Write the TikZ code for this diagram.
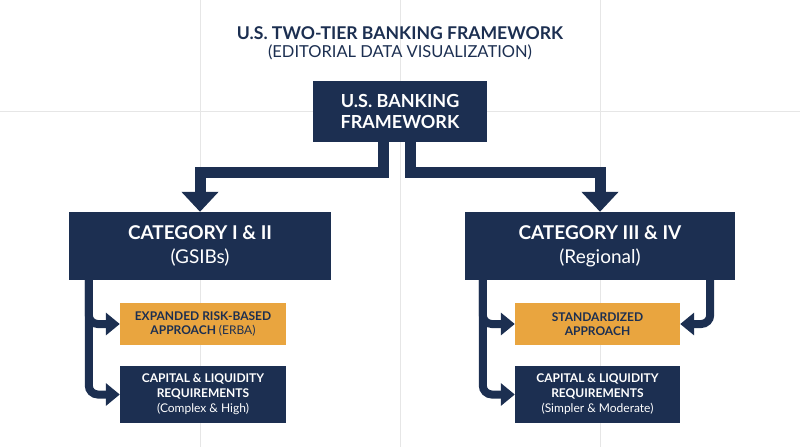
\documentclass[tikz,border=0pt]{standalone}
\usepackage{fontspec}
\setmainfont{Lato}
\usetikzlibrary{positioning,arrows.meta}
\definecolor{navy}{HTML}{1C2F51}
\definecolor{gold}{HTML}{E9A53F}
\definecolor{gridgray}{HTML}{E6E6E6}
\tikzset{
  darkbox/.style={fill=navy,text=white,align=center,inner sep=0pt},
  goldbox/.style={fill=gold,text=navy,align=center,inner sep=0pt,minimum width=166pt,minimum height=42pt,font=\fontsize{12}{14}\selectfont\bfseries},
  bigflow/.style={draw=navy,line width=11pt,-{Triangle[width=36pt,length=20pt]}},
  subflow/.style={draw=navy,line width=8pt,rounded corners=9pt,-{Triangle[width=22pt,length=14pt]}}
}
\begin{document}
\begin{tikzpicture}[x=1pt,y=-1pt]
\useasboundingbox (0,0) rectangle (800,447);

%Grid
\foreach \gx in {200,400,600} \draw[gridgray,line width=1pt] (\gx,0) -- (\gx,447);
\draw[gridgray,line width=1pt] (0,111) -- (800,111);

%Title
\node (title) at (400,33) [text=navy,font=\fontsize{17.6}{20}\selectfont\bfseries] {U.S. TWO-TIER BANKING FRAMEWORK};
\node (subtitle) at (400,52) [text=navy,font=\fontsize{16.5}{18}\selectfont] {(EDITORIAL DATA VISUALIZATION)};

%Nodes
\node (top) at (400,111.5) [darkbox,minimum width=174pt,minimum height=61pt,font=\fontsize{18}{21}\selectfont\bfseries] {U.S. BANKING\\FRAMEWORK};
\node (catL) at (200,246) [darkbox,minimum width=262pt,minimum height=68pt,font=\fontsize{19}{24}\selectfont] {\textbf{CATEGORY I \& II}\\(GSIBs)};
\node (catR) at (600,246) [darkbox,minimum width=270pt,minimum height=68pt,font=\fontsize{19}{24}\selectfont] {\textbf{CATEGORY III \& IV}\\(Regional)};
\node (erba) at (203,324) [goldbox] {EXPANDED RISK-BASED\\APPROACH \mdseries(ERBA)};
\node (capL) at (203,394.5) [darkbox,minimum width=166pt,minimum height=57pt,font=\fontsize{12}{15}\selectfont] {\textbf{CAPITAL \& LIQUIDITY}\\\textbf{REQUIREMENTS}\\(Complex \& High)};
\node (std) at (597.5,324) [goldbox,minimum width=165pt] {STANDARDIZED\\APPROACH};
\node (capR) at (597.5,394.5) [darkbox,minimum width=165pt,minimum height=57pt,font=\fontsize{12}{15}\selectfont] {\textbf{CAPITAL \& LIQUIDITY}\\\textbf{REQUIREMENTS}\\(Simpler \& Moderate)};

%Lines
\draw[bigflow] ([xshift=-17pt]top.south) |- ++(0,30) -| (catL.north);
\draw[bigflow] ([xshift=10pt]top.south) |- ++(0,30) -| (catR.north);
\draw[subflow] ([xshift=20pt]catL.south west) |- (capL.west);
\draw[subflow] ([xshift=20pt]catL.south west) |- (erba.west);
\draw[subflow] ([xshift=18pt]catR.south west) |- (capR.west);
\draw[subflow] ([xshift=18pt]catR.south west) |- (std.west);
\draw[subflow] ([xshift=-25pt]catR.south east) |- (std.east);
\end{tikzpicture}
\end{document}
